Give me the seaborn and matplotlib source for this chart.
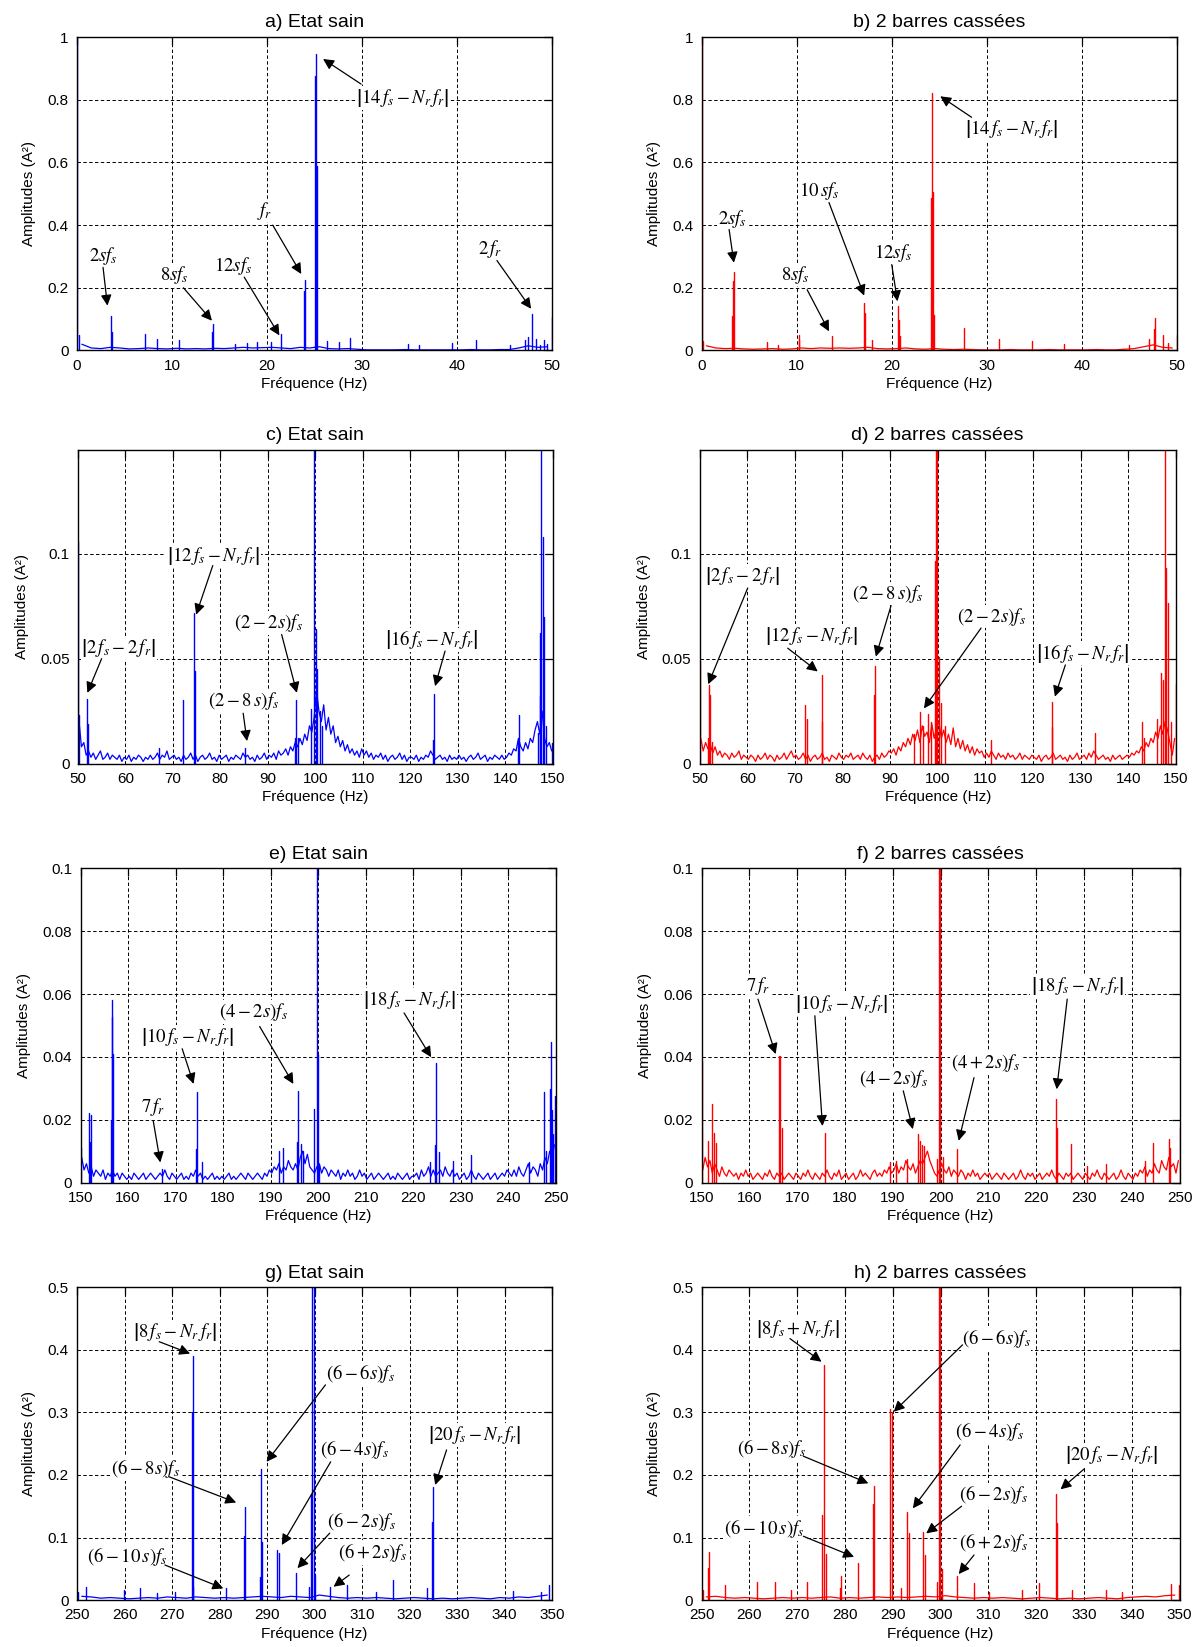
import numpy as np
import pandas as pd
import matplotlib
matplotlib.use("Agg")
import matplotlib.pyplot as plt
from matplotlib.ticker import MultipleLocator, FormatStrFormatter
import seaborn as sns

# ---------------------------------------------------------------------------
# Stator current spectra: healthy motor vs. 2 broken rotor bars
# Each panel = discrete spectral lines (freq, amplitude) + residual noise floor
# ---------------------------------------------------------------------------

# a) healthy, 0-50 Hz
a_spike_f = [0.0, 0.2, 3.55, 3.65, 7.2, 8.4, 10.7, 14.2, 14.3, 16.6, 17.9, 18.9, 20.4, 21.5,
             23.9, 24.0, 25.1, 25.2, 25.3, 26.3, 27.6, 28.7, 34.8, 36.0, 39.5, 42.0, 45.6,
             47.2, 47.5, 47.9, 48.3, 48.7, 49.2, 49.5, 49.95]
a_spike_amp = [1.0, 0.048, 0.109, 0.06, 0.053, 0.037, 0.032, 0.06, 0.085, 0.02, 0.023, 0.027,
               0.027, 0.051, 0.19, 0.225, 0.876, 0.945, 0.589, 0.03, 0.027, 0.039, 0.021, 0.018,
               0.023, 0.034, 0.018, 0.032, 0.042, 0.117, 0.037, 0.016, 0.034, 0.02, 0.108]
a_noise = [0.020, 0.008, 0.006, 0.010, 0.008, 0.005, 0.006, 0.008, 0.006, 0.005,
           0.007, 0.005, 0.006, 0.005, 0.007, 0.006, 0.008, 0.010, 0.008, 0.009,
           0.010, 0.008, 0.006, 0.010, 0.008, 0.012, 0.006, 0.005, 0.006, 0.004,
           0.002, 0.002, 0.002, 0.002, 0.003, 0.002, 0.002, 0.002, 0.002, 0.002,
           0.002, 0.003, 0.002, 0.002, 0.003, 0.003, 0.008, 0.015, 0.010, 0.012]

# b) 2 broken bars, 0-50 Hz
b_spike_f = [0.0, 0.2, 3.25, 3.35, 3.45, 6.85, 8.0, 10.2, 10.3, 13.7, 17.1, 17.2, 17.9, 20.7,
             20.8, 20.9, 24.1, 24.2, 24.3, 24.4, 27.6, 31.25, 34.7, 38.1, 45.0, 47.1, 47.6,
             47.7, 48.5, 49.0, 49.95]
b_spike_amp = [1.0, 0.03, 0.109, 0.223, 0.25, 0.026, 0.018, 0.034, 0.05, 0.045, 0.15, 0.12,
               0.032, 0.141, 0.098, 0.045, 0.488, 0.82, 0.506, 0.114, 0.071, 0.036, 0.029,
               0.02, 0.018, 0.036, 0.07, 0.104, 0.05, 0.023, 0.05]
b_noise = [0.015, 0.008, 0.006, 0.007, 0.005, 0.004, 0.005, 0.006, 0.004, 0.005,
           0.008, 0.006, 0.008, 0.007, 0.008, 0.007, 0.008, 0.010, 0.006, 0.005,
           0.006, 0.008, 0.005, 0.004, 0.006, 0.004, 0.003, 0.004, 0.003, 0.002,
           0.002, 0.002, 0.003, 0.002, 0.002, 0.002, 0.003, 0.002, 0.002, 0.002,
           0.002, 0.003, 0.002, 0.002, 0.004, 0.006, 0.012, 0.018, 0.010, 0.008]

# c) healthy, 50-150 Hz
c_spike_f = [50.0, 50.3, 51.85, 52.2, 67.1, 72.2, 74.5, 74.75, 85.2, 95.7, 96.0, 96.4, 99.1,
             99.75, 100.1, 100.4, 101.0, 101.5, 124.8, 125.0, 142.6, 142.9, 146.9, 147.2,
             147.35, 147.6, 147.9, 148.2, 148.6, 149.8]
c_spike_amp = [0.106, 0.023, 0.031, 0.019, 0.0075, 0.0305, 0.072, 0.044, 0.0075, 0.012,
               0.0305, 0.012, 0.026, 0.2, 0.064, 0.045, 0.025, 0.018, 0.011, 0.033, 0.011,
               0.023, 0.0146, 0.032, 0.062, 0.2, 0.108, 0.07, 0.018, 0.01]
c_noise = [
    0.020, 0.008, 0.010, 0.004, 0.006, 0.003, 0.005, 0.002, 0.004, 0.006, 0.002, 0.003, 0.005, 0.002, 0.004, 0.003, 0.002, 0.004, 0.001, 0.003,
    0.002, 0.004, 0.001, 0.003, 0.002, 0.004, 0.003, 0.001, 0.003, 0.002, 0.004, 0.002, 0.003, 0.005, 0.002, 0.004, 0.003, 0.006, 0.002, 0.003,
    0.004, 0.002, 0.003, 0.001, 0.004, 0.002, 0.003, 0.005, 0.002, 0.004, 0.001, 0.003, 0.004, 0.002, 0.003, 0.005, 0.002, 0.003, 0.001, 0.004,
    0.002, 0.003, 0.004, 0.001, 0.003, 0.002, 0.004, 0.003, 0.002, 0.005, 0.003, 0.004, 0.002, 0.003, 0.001, 0.004, 0.002, 0.003, 0.005, 0.002,
    0.004, 0.003, 0.005, 0.002, 0.006, 0.004, 0.005, 0.007, 0.004, 0.008, 0.006, 0.010, 0.008, 0.012, 0.009, 0.014, 0.011, 0.018, 0.015, 0.022,
    0.035, 0.025, 0.020, 0.028, 0.016, 0.022, 0.014, 0.018, 0.010, 0.013, 0.008, 0.011, 0.006, 0.009, 0.005, 0.007, 0.004, 0.006, 0.003, 0.007,
    0.004, 0.006, 0.003, 0.005, 0.002, 0.004, 0.003, 0.005, 0.002, 0.004, 0.001, 0.003, 0.004, 0.002, 0.003, 0.005, 0.002, 0.004, 0.001, 0.003,
    0.003, 0.002, 0.004, 0.001, 0.003, 0.002, 0.004, 0.003, 0.006, 0.004, 0.002, 0.003, 0.004, 0.002, 0.003, 0.001, 0.004, 0.002, 0.003, 0.002,
    0.004, 0.002, 0.003, 0.001, 0.003, 0.004, 0.002, 0.003, 0.005, 0.002, 0.003, 0.004, 0.001, 0.003, 0.002, 0.004, 0.003, 0.002, 0.004, 0.002,
    0.003, 0.005, 0.004, 0.007, 0.006, 0.012, 0.008, 0.006, 0.010, 0.007, 0.012, 0.010, 0.016, 0.020, 0.014, 0.025, 0.012, 0.008, 0.010, 0.006]

# d) 2 broken bars, 50-150 Hz
d_spike_f = [50.0, 51.8, 52.0, 52.25, 52.6, 72.1, 72.5, 75.6, 75.8, 86.6, 86.8, 95.0, 96.3,
             97.0, 97.9, 98.5, 99.4, 99.7, 99.95, 100.3, 100.6, 101.5, 111.1, 123.9, 124.1,
             133.1, 142.9, 143.3, 146.1, 146.9, 147.3, 147.7, 147.95, 148.3, 149.0, 150.0]
d_spike_amp = [0.049, 0.012, 0.0375, 0.0327, 0.0104, 0.028, 0.021, 0.02, 0.0423, 0.0327,
               0.0463, 0.014, 0.0247, 0.018, 0.0236, 0.02, 0.0965, 0.2, 0.2, 0.051, 0.0287,
               0.018, 0.011, 0.0175, 0.0295, 0.0144, 0.02, 0.012, 0.021, 0.043, 0.04, 0.2,
               0.093, 0.0765, 0.02, 0.038]
d_noise = [
    0.012, 0.006, 0.010, 0.007, 0.009, 0.005, 0.008, 0.004, 0.006, 0.003, 0.005, 0.004, 0.002, 0.005, 0.003, 0.004, 0.006, 0.002, 0.004, 0.003,
    0.002, 0.004, 0.003, 0.001, 0.004, 0.002, 0.003, 0.005, 0.002, 0.004, 0.003, 0.001, 0.004, 0.002, 0.003, 0.005, 0.002, 0.004, 0.006, 0.003,
    0.004, 0.002, 0.003, 0.005, 0.002, 0.004, 0.001, 0.003, 0.004, 0.002, 0.003, 0.005, 0.002, 0.003, 0.001, 0.004, 0.003, 0.002, 0.005, 0.003,
    0.002, 0.004, 0.003, 0.005, 0.002, 0.003, 0.004, 0.002, 0.005, 0.003, 0.002, 0.004, 0.001, 0.003, 0.004, 0.002, 0.005, 0.003, 0.004, 0.006,
    0.005, 0.007, 0.004, 0.008, 0.006, 0.010, 0.008, 0.012, 0.009, 0.014, 0.011, 0.016, 0.010, 0.018, 0.013, 0.015, 0.010, 0.019, 0.012, 0.017,
    0.020, 0.012, 0.016, 0.010, 0.014, 0.009, 0.017, 0.008, 0.012, 0.007, 0.011, 0.006, 0.009, 0.005, 0.008, 0.004, 0.007, 0.005, 0.006, 0.003,
    0.005, 0.003, 0.006, 0.004, 0.002, 0.005, 0.003, 0.004, 0.002, 0.005, 0.003, 0.004, 0.002, 0.003, 0.005, 0.002, 0.004, 0.003, 0.002, 0.004,
    0.003, 0.002, 0.004, 0.001, 0.003, 0.004, 0.002, 0.003, 0.005, 0.002, 0.003, 0.004, 0.002, 0.003, 0.001, 0.004, 0.002, 0.003, 0.005, 0.002,
    0.003, 0.004, 0.002, 0.005, 0.003, 0.006, 0.004, 0.002, 0.003, 0.004, 0.002, 0.003, 0.001, 0.004, 0.002, 0.003, 0.004, 0.002, 0.003, 0.004,
    0.003, 0.005, 0.004, 0.006, 0.005, 0.008, 0.006, 0.010, 0.008, 0.012, 0.010, 0.015, 0.012, 0.018, 0.014, 0.020, 0.016, 0.010, 0.004, 0.012]

# e) healthy, 150-250 Hz
e_spike_f = [150.1, 151.8, 152.0, 152.3, 156.4, 156.55, 156.7, 156.9, 167.1, 174.3, 174.5,
             175.6, 191.8, 192.6, 195.6, 195.8, 196.5, 196.8, 199.2, 199.7, 200.0, 200.3,
             223.6, 224.6, 224.8, 225.4, 228.5, 232.1, 244.4, 247.6, 247.9, 248.8, 249.0,
             249.2, 249.5, 249.8]
e_spike_amp = [0.011, 0.022, 0.013, 0.0216, 0.02, 0.0527, 0.058, 0.041, 0.0043, 0.0106,
               0.0287, 0.0064, 0.0101, 0.011, 0.0128, 0.029, 0.0122, 0.01, 0.0234, 0.15,
               0.041, 0.006, 0.0064, 0.012, 0.038, 0.0096, 0.007, 0.0088, 0.0064, 0.0287,
               0.01, 0.0298, 0.0447, 0.023, 0.0154, 0.0277]
e_noise = [
    0.008, 0.004, 0.006, 0.003, 0.005, 0.002, 0.004, 0.003, 0.002, 0.004, 0.001, 0.003, 0.002, 0.004, 0.002, 0.003, 0.001, 0.003, 0.002, 0.001,
    0.002, 0.001, 0.003, 0.002, 0.001, 0.002, 0.003, 0.001, 0.002, 0.003, 0.002, 0.001, 0.002, 0.003, 0.002, 0.004, 0.002, 0.001, 0.003, 0.002,
    0.001, 0.002, 0.003, 0.001, 0.002, 0.001, 0.003, 0.002, 0.004, 0.002, 0.003, 0.001, 0.002, 0.001, 0.002, 0.003, 0.001, 0.002, 0.001, 0.002,
    0.001, 0.002, 0.003, 0.001, 0.002, 0.001, 0.002, 0.003, 0.002, 0.001, 0.003, 0.002, 0.001, 0.002, 0.003, 0.002, 0.001, 0.003, 0.002, 0.004,
    0.003, 0.005, 0.004, 0.006, 0.003, 0.005, 0.004, 0.007, 0.005, 0.004, 0.006, 0.004, 0.008, 0.010, 0.006, 0.009, 0.005, 0.004, 0.003, 0.005,
    0.006, 0.003, 0.005, 0.004, 0.002, 0.004, 0.003, 0.002, 0.004, 0.001, 0.003, 0.002, 0.004, 0.002, 0.003, 0.001, 0.002, 0.004, 0.002, 0.003,
    0.001, 0.002, 0.003, 0.001, 0.002, 0.003, 0.002, 0.001, 0.002, 0.003, 0.001, 0.002, 0.001, 0.003, 0.002, 0.001, 0.002, 0.003, 0.001, 0.002,
    0.002, 0.003, 0.001, 0.004, 0.002, 0.003, 0.005, 0.002, 0.004, 0.002, 0.003, 0.004, 0.002, 0.005, 0.003, 0.002, 0.004, 0.002, 0.003, 0.001,
    0.002, 0.003, 0.001, 0.002, 0.004, 0.002, 0.001, 0.003, 0.002, 0.001, 0.002, 0.003, 0.001, 0.002, 0.003, 0.001, 0.002, 0.003, 0.002, 0.004,
    0.003, 0.002, 0.004, 0.002, 0.005, 0.003, 0.002, 0.004, 0.006, 0.003, 0.005, 0.004, 0.002, 0.006, 0.004, 0.008, 0.006, 0.010, 0.008, 0.012]

# f) 2 broken bars, 150-250 Hz
f_spike_f = [150.05, 151.4, 152.2, 152.6, 153.0, 166.1, 166.5, 166.8, 175.8, 189.4, 190.6,
             193.0, 195.2, 195.6, 196.2, 196.6, 199.2, 199.65, 199.95, 200.5, 203.4, 224.1,
             224.3, 227.3, 230.7, 234.6, 242.8, 244.5, 247.7, 248.0, 250.0]
f_spike_amp = [0.0387, 0.0133, 0.025, 0.0159, 0.0127, 0.0403, 0.0403, 0.0175, 0.0159, 0.0064,
               0.0069, 0.0074, 0.0154, 0.0133, 0.0119, 0.0117, 0.0074, 0.15, 0.15, 0.008,
               0.0106, 0.0265, 0.0175, 0.0122, 0.0053, 0.0058, 0.0069, 0.0125, 0.0138, 0.011,
               0.0178]
f_noise = [
    0.004, 0.008, 0.005, 0.007, 0.003, 0.006, 0.004, 0.002, 0.005, 0.003, 0.002, 0.004, 0.003, 0.002, 0.003, 0.001, 0.003, 0.002, 0.004, 0.002,
    0.003, 0.001, 0.002, 0.003, 0.002, 0.001, 0.003, 0.002, 0.004, 0.002, 0.001, 0.003, 0.002, 0.003, 0.001, 0.002, 0.003, 0.002, 0.001, 0.003,
    0.002, 0.001, 0.003, 0.002, 0.004, 0.002, 0.001, 0.003, 0.002, 0.001, 0.003, 0.002, 0.004, 0.002, 0.001, 0.003, 0.002, 0.004, 0.001, 0.002,
    0.003, 0.001, 0.002, 0.003, 0.001, 0.002, 0.004, 0.002, 0.003, 0.002, 0.001, 0.003, 0.004, 0.002, 0.003, 0.002, 0.004, 0.003, 0.005, 0.003,
    0.004, 0.006, 0.003, 0.005, 0.004, 0.007, 0.005, 0.004, 0.006, 0.003, 0.005, 0.007, 0.006, 0.008, 0.010, 0.007, 0.005, 0.003, 0.002, 0.004,
    0.006, 0.004, 0.003, 0.005, 0.002, 0.004, 0.003, 0.002, 0.004, 0.003, 0.001, 0.003, 0.002, 0.004, 0.002, 0.003, 0.001, 0.002, 0.003, 0.002,
    0.003, 0.001, 0.002, 0.003, 0.002, 0.001, 0.003, 0.002, 0.001, 0.002, 0.003, 0.001, 0.002, 0.004, 0.002, 0.001, 0.003, 0.002, 0.003, 0.001,
    0.002, 0.003, 0.001, 0.002, 0.003, 0.002, 0.004, 0.002, 0.001, 0.003, 0.002, 0.001, 0.003, 0.002, 0.003, 0.001, 0.002, 0.003, 0.002, 0.001,
    0.003, 0.002, 0.001, 0.003, 0.002, 0.004, 0.002, 0.001, 0.003, 0.002, 0.001, 0.002, 0.003, 0.001, 0.002, 0.004, 0.002, 0.001, 0.003, 0.002,
    0.001, 0.003, 0.002, 0.004, 0.003, 0.005, 0.002, 0.004, 0.003, 0.006, 0.004, 0.003, 0.007, 0.005, 0.004, 0.008, 0.005, 0.006, 0.003, 0.007]

# g) healthy, 250-350 Hz
g_spike_f = [250.2, 251.8, 259.8, 263.3, 266.9, 270.6, 274.25, 274.35, 274.5, 281.45, 285.1,
             285.3, 288.5, 288.8, 289.0, 292.1, 292.5, 296.0, 298.9, 299.2, 299.4, 299.8,
             300.2, 303.2, 306.85, 312.9, 316.5, 323.6, 324.75, 325.0, 341.8, 347.6, 349.4]
g_spike_amp = [0.013, 0.021, 0.016, 0.019, 0.011, 0.013, 0.30, 0.39, 0.021, 0.019, 0.102,
               0.149, 0.037, 0.21, 0.093, 0.08, 0.075, 0.0426, 0.021, 0.17, 0.6, 0.6, 0.04,
               0.021, 0.024, 0.013, 0.032, 0.019, 0.125, 0.18, 0.015, 0.013, 0.024]
g_noise = [0.006, 0.005, 0.003, 0.004, 0.003, 0.002, 0.003, 0.004, 0.003, 0.005,
           0.004, 0.003, 0.005, 0.004, 0.003, 0.004, 0.003, 0.004, 0.005, 0.006,
           0.005, 0.004, 0.006, 0.005, 0.004, 0.008, 0.006, 0.004, 0.003, 0.004,
           0.003, 0.004, 0.003, 0.002, 0.003, 0.004, 0.003, 0.002, 0.003, 0.002,
           0.003, 0.004, 0.003, 0.002, 0.004, 0.003, 0.005, 0.004, 0.006, 0.008]

# h) 2 broken bars, 250-350 Hz
h_spike_f = [250.2, 251.4, 251.6, 255.0, 261.6, 265.3, 268.7, 272.1, 275.3, 275.7, 276.1,
             279.0, 279.2, 282.7, 285.9, 286.1, 289.4, 289.8, 291.8, 293.0, 293.3, 296.3,
             296.7, 299.2, 299.6, 299.9, 300.4, 303.4, 306.9, 310.2, 317.1, 320.7, 324.05,
             324.3, 327.5, 334.6, 338.0, 348.2, 349.8]
h_spike_amp = [0.016, 0.0506, 0.077, 0.024, 0.029, 0.029, 0.016, 0.029, 0.136, 0.376, 0.0735,
               0.019, 0.038, 0.0586, 0.153, 0.182, 0.306, 0.30, 0.019, 0.14, 0.107, 0.109,
               0.072, 0.029, 0.6, 0.6, 0.049, 0.038, 0.028, 0.013, 0.016, 0.027, 0.17, 0.123,
               0.016, 0.016, 0.013, 0.025, 0.024]
h_noise = [0.005, 0.006, 0.004, 0.003, 0.004, 0.003, 0.002, 0.003, 0.004, 0.003,
           0.004, 0.003, 0.004, 0.005, 0.003, 0.004, 0.003, 0.004, 0.005, 0.004,
           0.005, 0.004, 0.005, 0.006, 0.005, 0.007, 0.005, 0.004, 0.003, 0.004,
           0.003, 0.004, 0.003, 0.002, 0.003, 0.004, 0.003, 0.002, 0.003, 0.002,
           0.003, 0.004, 0.003, 0.002, 0.004, 0.005, 0.006, 0.005, 0.007, 0.008]

# ---------------------------------------------------------------------------
# Labels of the identified harmonics: (text, text centre, arrow tail, arrow head)
# ---------------------------------------------------------------------------
L14 = r"$\left|14\,f_s - N_r\,f_r\right|$"
L12 = r"$\left|12\,f_s - N_r\,f_r\right|$"
L16 = r"$\left|16\,f_s - N_r\,f_r\right|$"
L10 = r"$\left|10\,f_s - N_r\,f_r\right|$"
L18 = r"$\left|18\,f_s - N_r\,f_r\right|$"
L20 = r"$\left|20\,f_s - N_r\,f_r\right|$"
L2F = r"$\left|2\,f_s - 2\,f_r\right|$"

notes = {
    "a": [(r"$2sf_s$", (2.74, 0.30), (2.74, 0.265), (3.2, 0.143)),
          (r"$8sf_s$", (10.2, 0.24), (11.2, 0.20), (14.2, 0.095)),
          (r"$12sf_s$", (16.4, 0.27), (17.6, 0.234), (21.3, 0.048)),
          (r"$f_r$", (19.8, 0.446), (20.6, 0.40), (23.6, 0.244)),
          (L14, (34.3, 0.805), (29.9, 0.85), (25.9, 0.93)),
          (r"$2\,f_r$", (43.5, 0.324), (44.2, 0.287), (47.8, 0.133))],
    "b": [(r"$2sf_s$", (3.2, 0.418), (2.9, 0.386), (3.4, 0.28)),
          (r"$8sf_s$", (9.9, 0.242), (11.1, 0.194), (13.4, 0.061)),
          (r"$10\,sf_s$", (12.4, 0.509), (13.4, 0.472), (17.1, 0.175)),
          (r"$12sf_s$", (20.1, 0.312), (20.0, 0.274), (20.6, 0.157)),
          (L14, (32.6, 0.707), (28.4, 0.744), (25.1, 0.811))],
    "c": [(L2F, (58.6, 0.0552), (55.0, 0.050), (52.0, 0.0337)),
          (L12, (78.5, 0.099), (78.4, 0.0944), (74.9, 0.071)),
          (r"$\left(2-8\,s\right)f_s$", (84.8, 0.0297), (84.8, 0.024), (85.6, 0.0107)),
          (r"$\left(2-2s\right)f_s$", (90.1, 0.067), (92.9, 0.0615), (96.1, 0.0337)),
          (L16, (124.6, 0.059), (127.3, 0.0536), (125.2, 0.0369))],
    "d": [(L2F, (59.0, 0.0893), (60.1, 0.0837), (51.8, 0.0378)),
          (L12, (73.6, 0.0609), (68.5, 0.055), (74.8, 0.0439)),
          (r"$\left(2-8\,s\right)f_s$", (89.4, 0.081), (90.2, 0.0753), (87.0, 0.051)),
          (r"$\left(2-2s\right)f_s$", (111.3, 0.070), (109.1, 0.0646), (97.1, 0.0263)),
          (L16, (130.5, 0.0526), (126.8, 0.047), (124.6, 0.0319))],
    "e": [(r"$7\,f_r$", (165.3, 0.0239), (165.3, 0.0197), (166.8, 0.0064)),
          (L10, (172.6, 0.0463), (171.4, 0.0426), (173.8, 0.0314)),
          (r"$\left(4-2s\right)f_s$", (186.3, 0.0543), (187.7, 0.0497), (194.8, 0.0314)),
          (L18, (219.2, 0.0582), (218.1, 0.054), (223.8, 0.0399))],
    "f": [(r"$7\,f_r$", (161.8, 0.0626), (161.8, 0.0584), (165.5, 0.0409)),
          (L10, (179.3, 0.0568), (173.7, 0.0531), (175.3, 0.018)),
          (r"$\left(4-2s\right)f_s$", (190.1, 0.0329), (192.2, 0.0292), (194.2, 0.017)),
          (r"$\left(4+2s\right)f_s$", (209.4, 0.0382), (207.0, 0.0334), (203.8, 0.0133)),
          (L18, (228.7, 0.0626), (226.5, 0.0584), (224.3, 0.0297))],
    "g": [(r"$\left|8\,f_s - N_r\,f_r\right|$", (270.6, 0.429), (267.3, 0.413), (273.8, 0.394)),
          (r"$\left(6-6s\right)f_s$", (309.7, 0.362), (302.3, 0.344), (289.9, 0.221)),
          (r"$\left(6-8s\right)f_s$", (264.4, 0.21), (269.4, 0.197), (283.5, 0.156)),
          (r"$\left(6-4s\right)f_s$", (308.3, 0.24), (303.4, 0.221), (293.1, 0.088)),
          (r"$\left(6-2s\right)f_s$", (309.8, 0.125), (303.2, 0.107), (296.4, 0.051)),
          (r"$\left(6-10\,s\right)f_s$", (260.5, 0.0704), (268.5, 0.056), (280.8, 0.0187)),
          (r"$\left(6+2s\right)f_s$", (312.1, 0.0757), (307.3, 0.04), (304.0, 0.0213)),
          (L20, (333.7, 0.264), (327.8, 0.24), (325.4, 0.184))],
    "h": [(r"$\left|8\,f_s + N_r\,f_r\right|$", (270.1, 0.434), (268.5, 0.418), (275.1, 0.381)),
          (r"$\left(6-6s\right)f_s$", (311.6, 0.418), (304.6, 0.408), (290.2, 0.301)),
          (r"$\left(6-8s\right)f_s$", (264.7, 0.2425), (271.3, 0.23), (284.9, 0.1866)),
          (r"$\left(6-4s\right)f_s$", (310.2, 0.269), (304.1, 0.248), (294.2, 0.1466)),
          (r"$\left(6-2s\right)f_s$", (311.0, 0.168), (304.4, 0.15), (297.0, 0.1066)),
          (r"$\left(6-10\,s\right)f_s$", (263.1, 0.1146), (271.3, 0.102), (281.9, 0.069)),
          (r"$\left(6+2s\right)f_s$", (311.0, 0.0917), (307.0, 0.072), (303.8, 0.0416)),
          (L20, (335.7, 0.232), (330.1, 0.21), (325.1, 0.177))],
}

# ---------------------------------------------------------------------------
# Styling
# ---------------------------------------------------------------------------
sns.set_theme(style="white")
plt.rcParams["font.family"] = ["Liberation Sans", "DejaVu Sans"]
plt.rcParams["mathtext.fontset"] = "stix"
plt.rcParams["axes.edgecolor"] = "black"
plt.rcParams["axes.linewidth"] = 1.0

BLUE = "#0000FF"
RED = "#FF0000"
SAIN = "Etat sain"
CASSE = "2 barres cassées"

# panel key, title, x-range, y-max, y-step, colour, data, axes rect [l, b, w, h]
panels = [
    ("a", "a) " + SAIN, (0, 50), 1.0, 0.2, BLUE, a_spike_f, a_spike_amp, a_noise,
     [0.0643, 0.7872, 0.3965, 0.1903]),
    ("b", "b) " + CASSE, (0, 50), 1.0, 0.2, RED, b_spike_f, b_spike_amp, b_noise,
     [0.5856, 0.7872, 0.3969, 0.1903]),
    ("c", "c) " + SAIN, (50, 150), 0.1495, 0.05, BLUE, c_spike_f, c_spike_amp, c_noise,
     [0.0650, 0.5364, 0.3965, 0.1904]),
    ("d", "d) " + CASSE, (50, 150), 0.1495, 0.05, RED, d_spike_f, d_spike_amp, d_noise,
     [0.5840, 0.5364, 0.3975, 0.1904]),
    ("e", "e) " + SAIN, (150, 250), 0.1, 0.02, BLUE, e_spike_f, e_spike_amp, e_noise,
     [0.0672, 0.2820, 0.3966, 0.1907]),
    ("f", "f) " + CASSE, (150, 250), 0.1, 0.02, RED, f_spike_f, f_spike_amp, f_noise,
     [0.5856, 0.2820, 0.3990, 0.1907]),
    ("g", "g) " + SAIN, (250, 350), 0.5, 0.1, BLUE, g_spike_f, g_spike_amp, g_noise,
     [0.0643, 0.0285, 0.3965, 0.1899]),
    ("h", "h) " + CASSE, (250, 350), 0.5, 0.1, RED, h_spike_f, h_spike_amp, h_noise,
     [0.5856, 0.0285, 0.3990, 0.1899]),
]


def stems(freqs, amps):
    """Long-form table with one vertical segment (0 -> amplitude) per line."""
    freqs = np.asarray(freqs, dtype=float)
    amps = np.asarray(amps, dtype=float)
    return pd.DataFrame({
        "f": np.repeat(freqs, 2),
        "amp": np.ravel(np.column_stack([np.zeros(len(amps)), amps])),
        "k": np.repeat(np.arange(len(freqs)), 2),
    })


fig = plt.figure(figsize=(11.98, 16.47), dpi=100)

for key, title, (x0, x1), ymax, ystep, color, sf, sa, noise, rect in panels:
    ax = fig.add_axes(rect)

    # noise floor, sampled uniformly across the band
    step = (x1 - x0) / len(noise)
    nf = np.linspace(x0 + step / 2, x1 - step / 2, len(noise))
    sns.lineplot(x=nf, y=noise, ax=ax, color=color, lw=0.9, estimator=None, zorder=2)

    # spectral lines
    sns.lineplot(data=stems(sf, sa), x="f", y="amp", units="k", estimator=None, ax=ax,
                 color=color, lw=1.0, zorder=2)

    ax.set_xlim(x0, x1)
    ax.set_ylim(0, ymax)
    ax.xaxis.set_major_locator(MultipleLocator(10))
    ax.yaxis.set_major_locator(MultipleLocator(ystep))
    ax.xaxis.set_major_formatter(FormatStrFormatter("%g"))
    ax.yaxis.set_major_formatter(FormatStrFormatter("%g"))
    ax.tick_params(direction="in", length=6, width=0.9, top=True, right=True,
                   labelsize=11, colors="black", pad=6)
    ax.grid(True, color="black", linestyle=(0, (3.5, 2.5)), lw=0.7)
    ax.set_axisbelow(True)
    for sp in ax.spines.values():
        sp.set_color("black")
        sp.set_linewidth(1.0)

    ax.set_title(title, fontsize=14, pad=7, color="black")
    ax.set_xlabel("Fréquence (Hz)", fontsize=11, labelpad=3, color="black")
    ax.set_ylabel("Amplitudes (A²)", fontsize=11, labelpad=8, color="black")

    for label, tpos, tail, head in notes[key]:
        ax.text(tpos[0], tpos[1], label, fontsize=13.5, ha="center", va="center",
                color="black", zorder=4,
                bbox=dict(facecolor="white", edgecolor="none", pad=0.6))
        ax.annotate("", xy=head, xytext=tail, zorder=5,
                    arrowprops=dict(arrowstyle="-|>", color="black", lw=0.9,
                                    mutation_scale=16, shrinkA=0, shrinkB=0))

fig.savefig("out.png", dpi=100)
